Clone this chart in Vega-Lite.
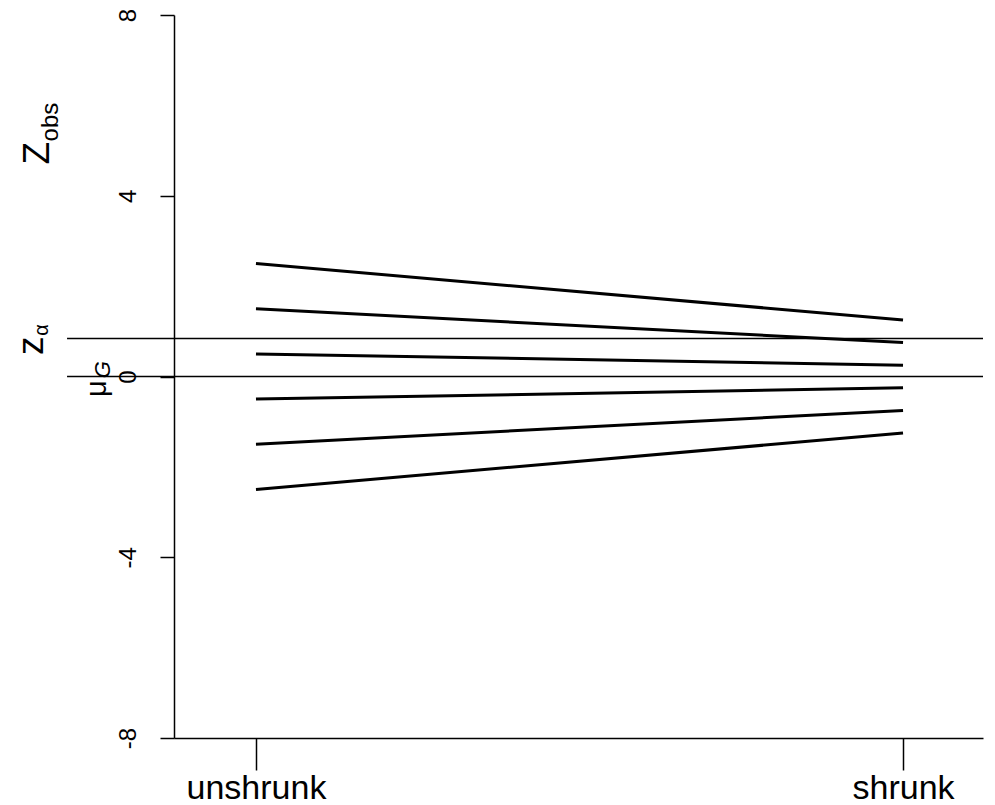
{
  "$schema": "https://vega.github.io/schema/vega-lite/v6.json",
  "width": 809,
  "height": 723,
  "autosize": {"type": "none"},
  "padding": {"left": 174, "top": 15, "right": 12, "bottom": 67},
  "background": "white",
  "config": {"view": {"stroke": null}, "font": "Liberation Sans"},
  "datasets": {
    "lines": [
      {"id": 1, "stage": 1, "z": 2.5}, {"id": 1, "stage": 2, "z": 1.25},
      {"id": 2, "stage": 1, "z": 1.5}, {"id": 2, "stage": 2, "z": 0.75},
      {"id": 3, "stage": 1, "z": 0.5}, {"id": 3, "stage": 2, "z": 0.25},
      {"id": 4, "stage": 1, "z": -0.5}, {"id": 4, "stage": 2, "z": -0.25},
      {"id": 5, "stage": 1, "z": -1.5}, {"id": 5, "stage": 2, "z": -0.75},
      {"id": 6, "stage": 1, "z": -2.5}, {"id": 6, "stage": 2, "z": -1.25}
    ],
    "refs": [
      {"name": "z_alpha", "y": 0.84, "x0": 0.708, "x1": 2.1236},
      {"name": "mu_G", "y": 0, "x0": 0.708, "x1": 2.1236}
    ],
    "one": [{}]
  },
  "layer": [
    {
      "data": {"name": "refs"},
      "mark": {"type": "rule", "clip": false, "color": "black", "strokeWidth": 1.5},
      "encoding": {
        "x": {
          "field": "x0", "type": "quantitative",
          "scale": {"domain": [0.8733, 2.1236], "nice": false, "zero": false},
          "axis": {
            "values": [1, 2],
            "labelExpr": "datum.value == 1 ? 'unshrunk' : 'shrunk'",
            "title": null, "grid": false,
            "tickSize": 32, "tickWidth": 1.5, "tickColor": "black",
            "domainColor": "black", "domainWidth": 1.5,
            "labelFontSize": 34, "labelColor": "black", "labelPadding": 1,
            "labelFlush": false, "labelOverlap": false
          }
        },
        "x2": {"field": "x1"},
        "y": {
          "field": "y", "type": "quantitative",
          "scale": {"domain": [-8, 8], "nice": false, "zero": false},
          "axis": {
            "values": [-8, -4, 0, 4, 8],
            "labelExpr": "replace(datum.label, '−', '-')",
            "title": null, "grid": false,
            "tickSize": 14, "tickWidth": 1.5, "tickColor": "black",
            "domainColor": "black", "domainWidth": 1.5,
            "labelFontSize": 24, "labelColor": "black", "labelAngle": -90,
            "labelPadding": 20, "labelFlush": false, "labelOverlap": false
          }
        }
      }
    },
    {
      "data": {"name": "lines"},
      "mark": {"type": "line", "color": "black", "strokeWidth": 3},
      "encoding": {
        "x": {"field": "stage", "type": "quantitative"},
        "y": {"field": "z", "type": "quantitative"},
        "detail": {"field": "id"}
      }
    },
    {
      "data": {"name": "one"},
      "mark": {"type": "text", "clip": false, "angle": 270, "fontSize": 37, "align": "center", "baseline": "middle", "color": "black"},
      "encoding": {"x": {"datum": 0.663}, "y": {"datum": 4.94}, "text": {"value": "Z"}}
    },
    {
      "data": {"name": "one"},
      "mark": {"type": "text", "clip": false, "angle": 270, "fontSize": 24, "align": "center", "baseline": "middle", "color": "black"},
      "encoding": {"x": {"datum": 0.6827}, "y": {"datum": 5.63}, "text": {"value": "obs"}}
    },
    {
      "data": {"name": "one"},
      "mark": {"type": "text", "clip": false, "angle": 270, "fontSize": 37, "align": "center", "baseline": "middle", "color": "black"},
      "encoding": {"x": {"datum": 0.6533}, "y": {"datum": 0.68}, "text": {"value": "z"}}
    },
    {
      "data": {"name": "one"},
      "mark": {"type": "text", "clip": false, "angle": 270, "fontSize": 20, "align": "center", "baseline": "middle", "color": "black"},
      "encoding": {"x": {"datum": 0.6692}, "y": {"datum": 1.03}, "text": {"value": "α"}}
    },
    {
      "data": {"name": "one"},
      "mark": {"type": "text", "clip": false, "angle": 270, "fontSize": 29, "align": "center", "baseline": "middle", "color": "black"},
      "encoding": {"x": {"datum": 0.755}, "y": {"datum": -0.27}, "text": {"value": "μ"}}
    },
    {
      "data": {"name": "one"},
      "mark": {"type": "text", "clip": false, "angle": 270, "fontSize": 22, "fontStyle": "italic", "align": "center", "baseline": "middle", "color": "black"},
      "encoding": {"x": {"datum": 0.7635}, "y": {"datum": 0.15}, "text": {"value": "G"}}
    }
  ]
}
